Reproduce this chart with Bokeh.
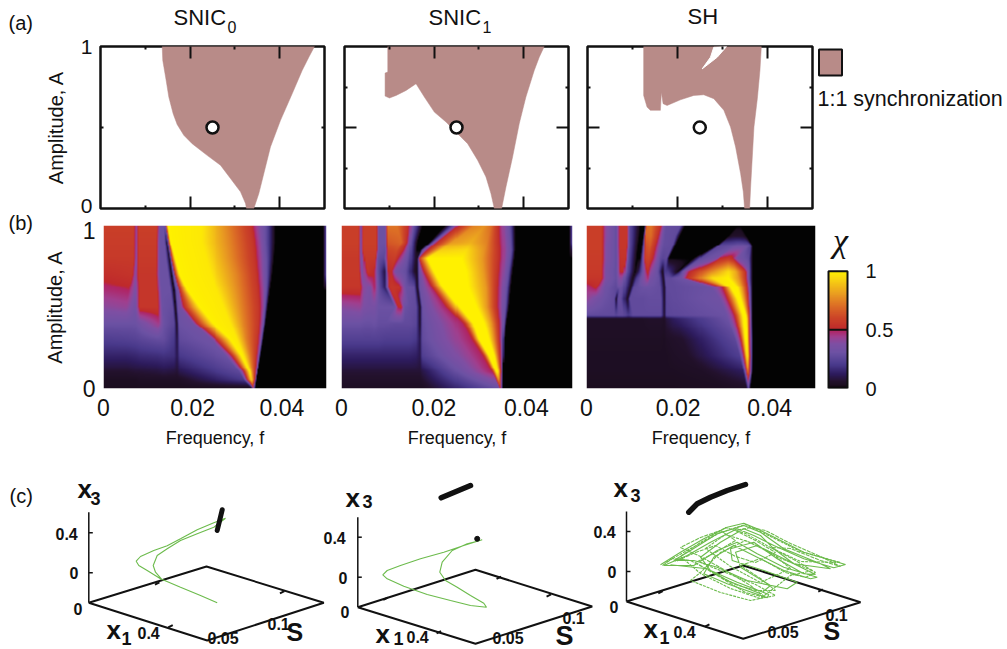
from bokeh.plotting import figure
from bokeh.layouts import row, column
from bokeh.models import (Range1d, LinearAxis, FixedTicker, Label, LinearColorMapper)
from bokeh.embed import file_html
from bokeh.resources import INLINE
import numpy as np

FONT = "Liberation Sans"
BROWN = "#b88b88"
GREEN = "#6cbb4c"

# ---------- (a) synchronization regions (frequency, amplitude) ----------
sync_f_snic0 = [.01377,.0139,.01466,.01525,.01622,.01711,.0186,.02046,.0238,.02678,.02902,.03125,.03237,.03259,
                .03422,.03534,.03646,.03794,.04018,.04278,.04501,.0465,.04776]
sync_a_snic0 = [1,.914,.79,.688,.585,.519,.452,.4,.328,.267,.185,.103,.031,0,
                0,.092,.216,.38,.544,.708,.852,.934,1]
sync_f_snic1 = [.00966,.00966,.00906,.00906,.01003,.01152,.01375,.01597,.01783,.02006,.02266,.02489,.02749,.02972,.03158,.03269,.03344,
                .03507,.03604,.03752,.03901,.04049,.04235,.04347,.04458]
sync_a_snic1 = [1,.842,.836,.694,.682,.698,.729,.77,.688,.595,.534,.472,.4,.298,.195,.092,0,
                0,.133,.318,.524,.688,.852,.934,1]
sync_f_sh = [.01248,.01248,.01323,.01397,.0162,.01642,.0168,.01769,.02065,.02362,.02584,.02807,.0303,.03179,.03291,.03402,.03462,.03491,
             .03603,.03625,.03699,.03774,.03832,.03863]
sync_a_sh = [1,.698,.626,.606,.606,.718,.647,.636,.671,.698,.702,.678,.606,.503,.38,.216,.103,0,
             0,.133,.503,.678,.852,1]
hole_f_sh = [.02549,.02734,.02807,.0309,.02883]
hole_a_sh = [.862,.934,.996,1,.934]
marker_f = [.025,.025,.02495]
marker_a = [.5,.5,.5]
legend_text = "1:1 synchronization"

# ---------- (b) chi, read along rows of constant amplitude: knot frequency (x1000) and chi ----------
amp_snic0 = [1,.9,.8,.7,.6,.5,.4,.3,.2,.1,.05,0]
f_snic0 = [
 [0,6.6,7.2,7.7,12,12.7,13.5,13.7,13.8,13.9,14,14.4,22,28,33,34.5,36.5,38.5,49.4,50],
 [0,6.6,7.2,7.7,11.8,12.7,13.7,14.2,14.4,14.5,14.6,15,22,28.5,33.5,35,36.5,38.5,49.4,50],
 [0,6.6,7.2,7.7,11.8,12.7,14,14.8,15,15.1,15.2,16,23,29,33.8,35.3,36.7,38.2,49.4,50],
 [0,6.3,7,7.7,11.8,12.7,14.5,15.3,15.6,15.8,16,17,24,30,34.2,35.5,36.7,37.8,49.4,50],
 [0,5.5,7,8,12,13,15,15.8,16.3,16.8,17,18.8,25.5,30.5,34.5,35.8,36.6,37.3,49.4,50],
 [0,5,7,8,12.2,13.2,15.5,16.1,16.6,17.2,17.9,21.5,27,31,34.8,35.8,36.3,36.8,49.4,50],
 [0,5,7,8,12.4,13.5,15.8,16.4,16.9,20,20.8,24.5,28.5,31.5,34.8,35.5,36,36.3,49.4,50],
 [0,5,7,8,12,13.5,15.8,16.5,17,24,25.2,28.5,30,32,34.5,35.2,35.5,35.8,49.4,50],
 [0,5,7,8,12,13.5,15.8,16.5,17,27.5,28.8,31,31.5,32.8,34.2,34.7,35,35.2,49.4,50],
 [0,5,7,8,12,13.5,15.8,16.5,17,30.5,31.5,32.8,33,33.4,34,34.3,34.5,34.6,49.4,50],
 [0,5,7,8,12,13.5,15.8,16.5,17,31.5,32.2,33.1,33.3,33.6,33.9,34.1,34.2,34.3,49.4,50],
 [0,6.3,7,8,12,13.5,15.8,16.5,17,33,33.3,33.5,33.6,33.7,33.8,33.9,34,34.1,49.4,50],
]
chi_snic0 = [
 [.58,.58,.4,.58,.58,.3,.3,.3,.3,.3,.5,1,.98,.75,.55,.42,.27,0,0,.25],
 [.57,.57,.4,.57,.57,.3,.3,.05,.3,.3,.5,1,.98,.75,.55,.42,.27,0,0,.25],
 [.56,.56,.38,.56,.56,.3,.3,.03,.3,.3,.5,1,.98,.75,.55,.42,.27,0,0,.25],
 [.52,.54,.38,.55,.55,.3,.3,0,.3,.3,.5,1,.98,.75,.55,.42,.27,0,0,.25],
 [.47,.49,.36,.55,.55,.3,.3,0,.3,.33,.5,1,.98,.75,.55,.42,.27,0,0,0],
 [.4,.42,.33,.55,.55,.3,.28,0,.3,.35,.5,1,.98,.75,.55,.42,.27,0,0,0],
 [.3,.3,.3,.33,.45,.3,.25,.03,.3,.33,.5,1,.98,.75,.55,.42,.27,0,0,0],
 [.22,.23,.24,.25,.28,.28,.2,.08,.27,.32,.5,1,.98,.75,.55,.42,.27,0,0,0],
 [.14,.14,.15,.16,.17,.18,.17,.1,.2,.3,.5,1,.98,.75,.55,.42,.27,0,0,0],
 [.06,.06,.07,.07,.08,.09,.08,.07,.1,.26,.5,1,.95,.75,.55,.42,.27,0,0,0],
 [.03,.03,.03,.04,.04,.04,.04,.04,.04,.2,.5,.9,.9,.75,.55,.42,.27,0,0,0],
 [.02,.02,.02,.02,.02,.02,.02,.02,.02,.02,.1,.4,.5,.4,.3,.2,.1,0,0,0],
]

amp_snic1 = [1,.9,.85,.8,.72,.62,.5,.4,.3,.2,.1,0]
f_snic1 = [
 [0,3.7,4.2,4.7,7.4,8,9.4,9.9,12,14.5,15.6,17.4,22.5,24.3,25.3,28.6,31,32.5,33.8,35,36.5,37.6,49.4,50],
 [0,3.7,4.2,4.7,7.4,8,9.4,10,13,14.3,15,16.3,19,19.8,20.7,24,28,31.5,33.8,35.3,36.7,37.6,49.4,50],
 [0,3.7,4.2,4.7,7.4,8,9.4,10,12,13.5,14.8,16.2,17,17.5,18.6,21.5,27,31,33.9,35.4,36.8,37.6,49.4,50],
 [0,3.7,4.3,5,7.2,7.8,9.2,10,11.5,12.8,14.5,16,16.4,16.5,16.7,18.5,26,30.5,33.9,35.3,36.6,37.4,49.4,50],
 [0,3.8,4.4,5.5,7,7.8,9.3,10,10.8,11.6,14,15.7,16.3,16.6,17.8,20,27,30.8,33.7,35,36.2,37,49.4,50],
 [0,4,4.8,6,7,8,9.3,10.3,11,12.6,14,15.6,16.3,16.8,19.6,22,27.5,31.3,33.5,34.7,35.8,36.6,49.4,50],
 [0,4,5,6,7,8,11.5,12.2,13,13.7,14.8,16,16.9,17.4,22.8,25.5,29.3,31.5,33.5,34.6,35.5,36.2,49.4,50],
 [0,4,5,6,7,8,9.3,11.5,12.7,13.7,14.8,16,16.9,17.4,26.5,28.5,31,32.5,34,34.8,35.2,35.6,49.4,50],
 [0,4,5,6,7,8,9.3,11.5,12.7,13.7,14.8,16,16.9,17.4,28.4,29.8,32,33,34.2,34.7,35,35.3,49.4,50],
 [0,4,5,6,7,8,9.3,11.5,12.7,13.7,14.8,16,16.9,17.4,30.8,32,33.2,33.7,34.4,34.8,35,35.2,49.4,50],
 [0,4,5,6,7,8,9.3,11.5,12.7,13.7,14.8,16,16.9,17.4,32.8,33.6,34,34.3,34.6,34.8,34.9,35,49.4,50],
 [0,4,5,6,7,8,9.3,11.5,12.7,13.7,14.8,16,16.9,17.4,34.2,34.4,34.6,34.7,34.8,34.9,35,35.1,49.4,50],
]
chi_snic1 = [
 [.58,.58,.35,.58,.58,.3,.3,.72,.72,.53,.28,0,0,.3,.52,.75,.78,.7,.55,.42,.27,0,0,.25],
 [.58,.58,.33,.58,.58,.3,.3,.65,.68,.5,.28,0,0,.3,.52,.8,.85,.75,.55,.42,.27,0,0,.25],
 [.57,.57,.33,.57,.57,.3,.28,.6,.62,.5,.28,0,0,.3,.52,.92,.95,.78,.55,.42,.27,0,0,.1],
 [.56,.56,.33,.56,.56,.28,.25,.56,.58,.45,.28,.05,.05,.3,.55,1,1,.8,.55,.42,.27,0,0,0],
 [.56,.56,.35,.55,.5,.28,.08,.5,.52,.35,.28,.05,.02,.28,.52,1,1,.8,.55,.42,.27,0,0,0],
 [.55,.55,.4,.36,.5,.28,.12,.54,.55,.54,.3,.28,.02,.3,.5,1,1,.8,.55,.42,.27,0,0,0],
 [.4,.42,.36,.35,.35,.3,.3,.5,.52,.3,.28,.27,.03,.3,.5,1,1,.8,.55,.42,.27,0,0,0],
 [.3,.3,.29,.29,.3,.28,.28,.27,.27,.27,.27,.25,.05,.28,.5,1,1,.8,.55,.42,.27,0,0,0],
 [.23,.23,.23,.23,.23,.23,.22,.22,.22,.22,.22,.2,.1,.27,.5,1,1,.8,.55,.42,.27,0,0,0],
 [.14,.14,.14,.14,.14,.14,.14,.14,.14,.14,.14,.13,.1,.22,.5,1,1,.8,.55,.42,.27,0,0,0],
 [.07,.07,.07,.07,.07,.07,.07,.07,.07,.07,.07,.07,.07,.09,.5,1,.98,.8,.55,.42,.27,0,0,0],
 [.03,.03,.03,.03,.03,.03,.03,.03,.03,.03,.03,.03,.03,.03,.3,.5,.5,.4,.3,.2,.1,0,0,0],
]

amp_sh = [1,.94,.88,.8,.72,.68,.62,.55,.45,.43,.3,.2,.1,0]
f_sh = [
 [0,3.2,4.2,6.5,7.3,8.7,9.2,11.6,12.6,13,14,16.2,17,17.3,20.5,21.5,32.8,33,33.1,33.2,33.3,33.4,33.5,33.6,33.7,49.4,50],
 [0,3.2,4.2,6.5,7.3,8.7,9.2,11.4,12.3,12.8,14,15.6,16.8,17.1,19.4,20.4,31,31.5,32,32.5,33,33.5,34,34.5,35,49.4,50],
 [0,3.2,4.2,6.5,7.3,8.6,9.2,11.1,12,12.8,13.8,15,16.5,16.9,18.8,19.4,28.5,29,32,33,34.5,35.3,35.7,36,36.3,49.4,50],
 [0,3.2,4.2,6.5,7.4,8.4,9,10.8,11.6,12.7,13.5,14.5,16,16.6,17.5,18,23.5,25,28.5,29,31,32,33,35.5,36.3,49.4,50],
 [0,3.2,4.2,6.5,7.4,8,8.8,10.5,11.2,13,13.4,14,15.6,16.6,17,17.8,20,21,22.5,27,31,32.5,34.7,35.6,36.3,49.4,50],
 [0,3.2,4.2,6.5,7.2,7.8,8.4,10,10.8,13.2,13.4,13.8,15.8,16.8,17.2,18,18.3,20.8,21.8,27.5,31,33.2,34.8,35.6,36.3,49.4,50],
 [0,2,4,6.5,7,7.5,8,9.5,10.2,12.5,13,13.6,16,17,17.4,18.5,19,27,29.7,31.5,33,34,35.1,35.8,36.3,49.4,50],
 [0,2,4,6.1,6.5,6.9,7.5,8.8,9.3,11,12,13.5,16.2,17,17.4,19,19.5,29,30.7,33,33.7,34.5,35.3,35.9,36.3,49.4,50],
 [0,2,4,6,6.5,7,8,9,10,11,12,13.5,16.2,17,17.4,19,19.5,30.5,32.3,34.2,34.9,35.2,35.6,36,36.3,49.4,50],
 [0,2,4,6,6.5,7,8,9,10,11,12,13.5,16.2,17,17.4,19,19.5,30.8,32.5,34.3,35,35.3,35.6,36,36.3,49.4,50],
 [0,2,4,6,6.5,7,8,9,10,11,12,13.5,16.2,17,17.4,19,21,32.5,33.7,34.7,35.2,35.4,35.6,36.1,36.4,49.4,50],
 [0,2,4,6,6.5,7,8,9,10,11,12,13.5,16.2,17,17.4,19,22,33.5,34.4,35,35.3,35.5,35.7,36.1,36.4,49.4,50],
 [0,2,4,6,6.5,7,8,9,10,11,12,13.5,16.2,17,17.4,19,25,34.3,35,35.2,35.35,35.5,35.7,36.1,36.3,49.4,50],
 [0,2,4,6,6.5,7,8,9,10,11,12,13.5,16.2,17,17.4,19,30,35,35.3,35.35,35.4,35.5,35.6,35.7,35.9,49.4,50],
]
chi_sh = [
 [.58,.58,.4,.28,.55,.55,.27,0,0,.7,.72,.52,.3,.28,.27,0,0,0,0,0,0,0,0,0,0,0,0],
 [.58,.58,.4,.28,.55,.55,.27,0,0,.68,.7,.52,.3,.28,.27,0,0,.03,.05,.05,.05,.05,.05,.03,0,0,0],
 [.58,.58,.38,.28,.55,.55,.27,0,0,.62,.66,.52,.3,.28,.27,0,0,.25,.28,.3,.3,.28,.27,.2,0,0,0],
 [.57,.57,.38,.28,.54,.54,.27,0,0,.58,.6,.5,.28,.25,.27,0,0,.27,.35,.5,.55,.5,.35,.27,0,0,0],
 [.56,.56,.35,.28,.52,.52,.27,0,.1,.5,.52,.4,.28,.02,.2,.2,0,.3,.5,.75,.95,.85,.55,.3,0,0,0],
 [.55,.55,.36,.28,.4,.4,.27,.02,.2,.46,.48,.35,.28,.03,.27,.27,.27,.32,.5,.95,1,.8,.55,.3,0,0,0],
 [.46,.52,.32,.26,.3,.3,.27,.03,.27,.3,.3,.3,.28,.03,.27,.27,.27,.3,.5,1,1,.8,.55,.3,0,0,0],
 [.42,.35,.3,.27,.02,.27,.28,.03,.27,.27,.27,.28,.28,.03,.26,.27,.27,.32,.5,1,1,.8,.55,.3,0,0,0],
 [.27,.27,.27,.27,.25,.27,.27,.2,.27,.27,.27,.27,.27,.05,.25,.26,.26,.3,.5,1,1,.8,.55,.3,0,0,0],
 [.04,.04,.04,.04,.04,.04,.04,.04,.04,.04,.04,.05,.05,.04,.08,.12,.13,.3,.5,1,1,.8,.55,.3,0,0,0],
 [.035,.035,.035,.035,.035,.035,.035,.035,.035,.035,.035,.035,.035,.03,.04,.05,.06,.26,.5,1,1,.8,.55,.3,0,0,0],
 [.03,.03,.03,.03,.03,.03,.03,.03,.03,.03,.03,.03,.03,.03,.03,.04,.05,.22,.5,.95,.95,.8,.55,.3,0,0,0],
 [.03,.03,.03,.03,.03,.03,.03,.03,.03,.03,.03,.03,.03,.03,.03,.03,.04,.12,.5,.7,.7,.62,.52,.28,0,0,0],
 [.02,.02,.02,.02,.02,.02,.02,.02,.02,.02,.02,.02,.02,.02,.02,.02,.03,.04,.2,.25,.25,.25,.2,.1,0,0,0],
]

chi_levels = [0,.02,.06,.12,.2,.3,.38,.44,.49,.5,.6,.7,.8,.95,1]
chi_colors = ["#030303","#1c0e20","#24122e","#2e1c5e","#4a3a8c","#6c52a4","#7f4fa3","#a0408f","#b02565",
              "#bf2a2c","#cc4428","#dc6c26","#e99a22","#fbdc10","#fff100"]
cbar_ticks = [0,.5,1]

# ---------- (c) trajectories in the picture plane ----------
box_u = {"c1": [88.3,206.7,323.3,206,88.3], "c2": [357.3,475,591.7,475,357.3], "c3": [626,742.7,860,742.7,626]}
box_v = {"c1": [602.3,640,602.3,566,602.3], "c2": [606.7,643.3,606,569.3,606.7], "c3": [601,638.3,601.7,565,601]}
zaxis_top = {"c1": 511.7, "c2": 516.7, "c3": 511}
ztick_v = {"c1": [532.3,572.3], "c2": [536.7,576.7], "c3": [531,571]}
edge_tick_u = {"c1": [170,156.7,281.7], "c2": [438.3,385,498.3,548.3], "c3": [706.7,660,820]}
edge_tick_v = {"c1": [625.7,583,591.7], "c2": [631.7,598.3,577.3,595], "c3": [625,591.7,590]}

c1_green_u = [216.7,200,180,160,146.7,138.3,135.7,140,153.3,166.7,180,196.7,213.3,225,213.3,196.7,180,166.7,156.7,152.7,155,161.7]
c1_green_v = [602.3,595,586.7,578.3,570,565,560.7,556,550,545.3,538.3,529.3,522.3,517.7,526.7,533.3,540,548.3,555,565,571.7,579.3]
c1_black_u = [221.7,216.7]
c1_black_v = [509.3,530]

c2_green_u = [481.7,463.3,443.3,420,400,386.7,382.3,386.7,403.3,426.7,450,470,486,483.3,470,456.7,445,439.3,441.7,451.7,466.7,476.7,481.7]
c2_green_v = [539.3,545,551.7,558.3,565,570,574.3,578.3,585.7,594,600,605,606.7,602.7,595,586.7,580,571.7,561.7,550,543.3,540.7,539.3]
c2_black_u = [440.7,470]
c2_black_v = [497.3,485]
c2_dot_u = [476.7]
c2_dot_v = [538.3]

c3_green_u = [660,680,703.3,726.7,743.3,756.7,776.7,803.3,845,833.3,803.3,773.3,753.3,736.7,710,686.7,663.3,693.3,716.7,736.7,756.7,783.3,816.7,810,783.3,756.7,733.3,713.3,703.3,726.7,766.7,768.3,736.7,710,700,720,743.3,760,773.3,793.3,830,820,783.3,760,743.3,716.7,690,673.3,693.3,716.7,746.7,786.7,796.7,763.3,731.7,730,753.3,776.7,803.3,815,786.7,756.7,735,740,770,760,726.7,706.7,670]
c3_green_v = [564.3,551.7,538.3,526.7,522.7,528.3,538.3,551.7,564,567.3,558.3,545,535,528.3,541.7,555,565,565,550,541.7,553.3,566.7,576.7,578.3,570,556.7,545,556.7,573.3,583.3,597.3,594,581.7,570,556.7,541.7,528.3,535,548.3,563.3,568.3,563.3,548.3,531.7,525,533.3,550,560,560,566.7,580,588.3,581.7,570,560,548.3,541.7,558.3,573.3,574,560,545,551.7,566.7,585,593.3,580,568.3,564.3]
c3_green2_u = [665,690,720,745,770,800,840,800,770,745,725,700,680,700,730,760,790,812,780,750,725,705,730,760,790,770,745,720,700,690,720,750,775,755,725,700]
c3_green2_v = [562,548,532,524,536,551,562,561,547,533,527,542,556,573,588,598,575,570,558,542,534,548,566,582,568,552,540,552,572,580,592,600,595,584,572,562]
c3_green3_u = [662,672,690,705,725,745,765,750,725,700,680,700,720,735,715,695,712,735,755,775,760,740,760,785,805,815,795,770,790,820,840,820,790,765,750,735,755,775,755,735,715,695,675]
c3_green3_v = [565,558,560,568,580,592,597,585,570,556,547,537,530,540,552,562,572,584,590,590,578,565,558,572,577,572,560,547,548,560,566,556,543,530,527,530,540,552,562,556,545,552,561]
c3_black_u = [688.3,696.7,710,726.7,745]
c3_black_v = [511.7,503.3,496.7,490,484]


def field(amps, f_rows, chi_rows, nx=226, ny=167):
    """Lay the row tables out on the image grid of one panel."""
    amps_up = np.array(amps[::-1], float)
    F = np.array(f_rows[::-1], float)
    X = np.array(chi_rows[::-1], float)
    fx = np.linspace(0, 50, nx)
    out = np.zeros((ny, nx))
    for i, a in enumerate(np.linspace(0, 1, ny)):
        j = min(np.searchsorted(amps_up, a, side="right") - 1, len(amps_up) - 2)
        t = (a - amps_up[j]) / (amps_up[j + 1] - amps_up[j])
        out[i] = np.interp(fx, (1 - t) * F[j] + t * F[j + 1], (1 - t) * X[j] + t * X[j + 1])
    return out


def make_palette():
    s = np.linspace(0, 1, 512)
    rgb = [[int(c[k:k + 2], 16) for c in chi_colors] for k in (1, 3, 5)]
    vals = [np.interp(s, chi_levels, ch) for ch in rgb]
    return ["#%02x%02x%02x" % (int(r), int(g), int(b)) for r, g, b in zip(*vals)]


mapper = LinearColorMapper(palette=make_palette(), low=0, high=1)


def base(width, height, left, right, top, bottom, xr=(0, .05), yr=(0, 1)):
    p = figure(width=width, height=height, output_backend="svg", toolbar_location=None,
               x_range=Range1d(*xr), y_range=Range1d(*yr),
               min_border_left=left, min_border_right=right, min_border_top=top, min_border_bottom=bottom,
               x_axis_location=None, y_axis_location=None)
    p.grid.visible = False
    p.background_fill_color = "white"
    p.border_fill_color = "white"
    p.outline_line_color = None
    return p


def put(p, x, y, text, size, align="left", font=FONT, style="normal"):
    """Free text at a data position of figure p."""
    p.add_layout(Label(x=x, y=y, text=text, text_font=font, text_font_size=f"{size}px", text_font_style=style,
                       text_align=align, text_baseline="middle", text_color="#111111"))


def ticks(p, side, major, minor, major_len, minor_len, labels=None, size=22, standoff=8, axis_label=None, lab_size=20, lab_off=14):
    ax = LinearAxis(ticker=FixedTicker(ticks=major, minor_ticks=minor))
    ax.major_tick_in = major_len
    ax.major_tick_out = 0
    ax.minor_tick_in = minor_len
    ax.minor_tick_out = 0
    ax.major_tick_line_color = "#111111"
    ax.minor_tick_line_color = "#111111"
    ax.major_tick_line_width = 2
    ax.minor_tick_line_width = 2
    ax.axis_line_color = None
    if labels is None:
        ax.major_label_overrides = {m: "" for m in major}
        ax.major_label_text_font_size = "1px"
        ax.major_label_standoff = 0
    else:
        ax.major_label_overrides = labels
        ax.major_label_text_font = FONT
        ax.major_label_text_font_size = f"{size}px"
        ax.major_label_text_color = "#111111"
        ax.major_label_standoff = standoff
    if axis_label:
        ax.axis_label = axis_label
        ax.axis_label_text_font = FONT
        ax.axis_label_text_font_style = "normal"
        ax.axis_label_text_font_size = f"{lab_size}px"
        ax.axis_label_text_color = "#111111"
        ax.axis_label_standoff = lab_off
    p.add_layout(ax, side)
    return ax


# strip over the panels: row label and column titles
strip = base(1007, 34, 0, 0, 0, 0, xr=(0, 1007), yr=(34, 0))
put(strip, 8, 22, "(a)", 20)
put(strip, 173, 17, "SNIC", 22)
put(strip, 227, 26, "0", 16)
put(strip, 428, 17, "SNIC", 22)
put(strip, 482, 26, "1", 16)
put(strip, 687, 16, "SH", 22)

# narrow strip left of the panels, holding the (b) label
side = base(40, 416, 0, 0, 0, 0, xr=(0, 40), yr=(450, 34))
put(side, 8, 222, "(b)", 20)


def panel_a(width, left, right, fs, As, mf, ma, first):
    p = base(width, 183, left, right, 12, 9)
    p.patch(fs, As, fill_color=BROWN, line_color=BROWN, line_width=.5)
    p.scatter(mf, ma, size=12, fill_color="white", line_color="#111111", line_width=2.5)
    p.outline_line_color = "#111111"
    p.outline_line_width = 2.5
    fmaj, fmin = [.02, .04], [.01, .03]
    ticks(p, "below", fmaj, fmin, 12, 3)
    ticks(p, "above", fmaj, fmin, 12, 3)
    if first:
        ticks(p, "left", [.013, 1], [.5], 0, 3, labels={.013: "0", 1: "1"}, axis_label="Amplitude, A", size=21, lab_off=11)
        ticks(p, "right", [], [.5], 0, 3)
    else:
        ticks(p, "left", [.5], [.25, .75], 12, 3)
        ticks(p, "right", [.5], [.25, .75], 12, 3)
    return p


a1 = panel_a(295, 60, 11, sync_f_snic0, sync_a_snic0, marker_f[:1], marker_a[:1], True)
a2 = panel_a(242, 9, 9, sync_f_snic1, sync_a_snic1, marker_f[1:2], marker_a[1:2], False)
a3 = panel_a(238, 10, 3, sync_f_sh, sync_a_sh, marker_f[2:], marker_a[2:], False)
a3.patch(hole_f_sh, hole_a_sh, fill_color="white", line_color="white")

leg = base(192, 183, 0, 0, 12, 9, xr=(815, 1007), yr=(208, 46))
leg.quad(left=[818.5], right=[841.5], top=[49], bottom=[75], fill_color=BROWN, line_color="#111111", line_width=2)
put(leg, 817, 98, legend_text, 21.5)


def panel_b(width, left, right, amps, f_rows, chi_rows, first):
    p = base(width, 233, left, right, 8, 58)
    img = field(amps, f_rows, chi_rows)
    p.image(image=[img], x=0, y=0, dw=.05, dh=1, color_mapper=mapper)
    ticks(p, "below", [0, .02, .04], [], 0, 0, labels={0: "0", .02: "0.02", .04: "0.04"}, size=23, standoff=10,
          axis_label="Frequency, f", lab_size=18, lab_off=9)
    if first:
        ticks(p, "left", [0, .97], [], 0, 0, labels={0: "0", .97: "1"}, size=23, standoff=8, axis_label="Amplitude, A", lab_off=14)
    return p


b1 = panel_b(293, 60, 7, amp_snic0, f_snic0, chi_snic0, True)
b2 = panel_b(246, 8, 7, amp_snic1, f_snic1, chi_snic1, False)
b3 = panel_b(241, 7, 5, amp_sh, f_sh, chi_sh, False)

# colour scale shares the frame height of its row; chi 0..1 fills the lower part of its range
cb = base(187, 233, 0, 155, 8, 58, xr=(820, 852), yr=(0, 1.39))
cb.image(image=[np.linspace(0, 1, 180).reshape(-1, 1)], x=828, y=0, dw=19, dh=1, color_mapper=mapper)
cb.quad(left=[828], right=[847], bottom=[0], top=[1], fill_color=None, line_color="#111111", line_width=2)
cb.segment([828], [.5], [847], [.5], line_color="#111111", line_width=2)
ticks(cb, "right", cbar_ticks, [], 0, 0, labels={0: "0", .5: "0.5", 1: "1"}, size=20, standoff=13)
put(cb, 840, 1.26, "\u03c7", 34, align="center", font="Liberation Serif", style="italic")

c = base(1007, 199, 0, 0, 0, 0, xr=(0, 1007), yr=(649, 450))


def text_c(x, y, s, size, style="bold", align="left"):
    put(c, x, y, s, size, align=align, style=style)


text_c(9, 495, "(c)", 20, "normal")
for key in ("c1", "c2", "c3"):
    c.line(box_u[key], box_v[key], line_color="#111111", line_width=2)
    u0 = box_u[key][0]
    c.line([u0, u0], [box_v[key][0], zaxis_top[key]], line_color="#111111", line_width=1.5)
    c.segment([u0] * 2, ztick_v[key], [u0 + 4] * 2, ztick_v[key], line_color="#111111", line_width=1.5)
    c.scatter(edge_tick_u[key], edge_tick_v[key], marker="dash", size=5, angle=.45, line_color="#111111", line_width=2)

c.line(c1_green_u, c1_green_v, line_color=GREEN, line_width=1.1)
c.line(c1_black_u, c1_black_v, line_color="#111111", line_width=5, line_cap="round")
c.line(c2_green_u, c2_green_v, line_color=GREEN, line_width=1.1)
c.line(c2_black_u, c2_black_v, line_color="#111111", line_width=5.5, line_cap="round")
c.scatter(c2_dot_u, c2_dot_v, size=5, fill_color="#111111", line_color="#111111")
c.line(c3_green_u, c3_green_v, line_color=GREEN, line_width=1.1)
c.line(c3_green2_u, c3_green2_v, line_color=GREEN, line_width=1.1, line_dash="3 1")
c.line(c3_green3_u, c3_green3_v, line_color=GREEN, line_width=1.1, line_dash="4 1")
c.line(c3_black_u, c3_black_v, line_color="#111111", line_width=5.5, line_cap="round")

for x, y, s, sz in [
    (77, 488, "x", 26), (90, 498, "3", 18), (55, 533, "0.4", 16), (69, 572, "0", 16), (73, 608, "0", 16),
    (106, 629, "x", 26), (121, 638, "1", 18), (137, 632, "0.4", 16), (207, 637, "0.05", 16), (267, 623, "0.1", 16),
    (286, 631, "S", 25),
    (345, 497, "x", 26), (362, 501, "3", 18), (323, 537, "0.4", 16), (338, 577, "0", 16), (340, 611, "0", 16),
    (375, 633, "x", 26), (393, 638, "1", 18), (406, 636, "0.4", 16), (492, 637, "0.05", 16), (562, 617, "0.1", 16),
    (555, 635, "S", 27),
    (613, 487, "x", 26), (630, 495, "3", 18), (593, 531, "0.4", 16), (607, 571, "0", 16), (609, 606, "0", 16),
    (643, 628, "x", 26), (659, 637, "1", 18), (673, 631, "0.4", 16), (767, 631, "0.05", 16), (825, 614, "0.1", 16),
    (823, 630, "S", 25),
]:
    text_c(x, y, s, sz)

panels = column(row(a1, a2, a3, leg, spacing=0), row(b1, b2, b3, cb, spacing=0), spacing=0)
layout = column(strip, row(side, panels, spacing=0), c, spacing=0)
open("out.html", "w").write(file_html(layout, INLINE))
